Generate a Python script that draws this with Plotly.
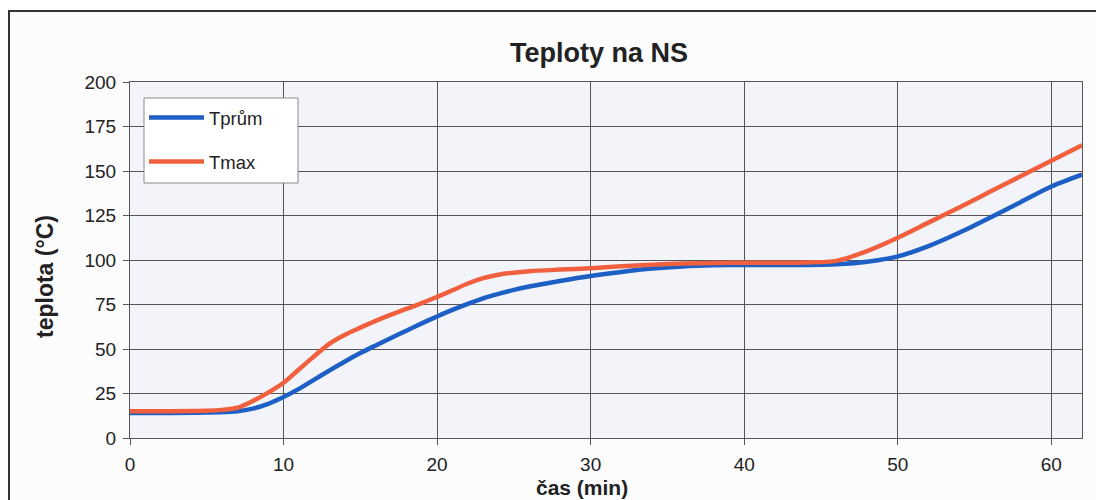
import plotly.graph_objects as go

# time in minutes
t_prum_x = [0, 5, 7, 8, 9, 10, 11, 12, 13, 14, 15, 16, 17, 18, 19, 20, 21, 22, 23, 24, 25, 26, 28, 30, 32, 34, 36, 38, 40, 42, 44, 46, 48, 50, 52, 54, 56, 58, 60, 62]
t_prum_y = [14, 14.3, 15, 16.5, 19.2, 23, 27.6, 32.8, 38, 43, 47.7, 52, 56.2, 60.3, 64.4, 68.3, 72, 75.4, 78.5, 81, 83.2, 85.1, 88.2, 91, 93.3, 95.2, 96.4, 97, 97.2, 97.2, 97.2, 97.6, 99, 102, 107.8, 115.3, 123.7, 132.5, 141.3, 148]

t_max_x = [0, 5, 6, 7, 8, 9, 10, 11, 12, 13, 14, 15, 16, 17, 18, 19, 20, 21, 22, 23, 24, 25, 26, 28, 30, 32, 34, 36, 38, 40, 42, 44, 46, 48, 50, 52, 54, 56, 58, 60, 62]
t_max_y = [15, 15.3, 15.8, 17, 20.8, 25.5, 31, 38.5, 46, 53, 58, 62, 65.8, 69.3, 72.5, 75.8, 79.3, 83, 86.8, 89.8, 91.7, 92.9, 93.7, 94.6, 95.4, 96.5, 97.4, 98, 98.3, 98.5, 98.5, 98.6, 99.5, 105, 112.5, 121, 129.5, 138.3, 147, 155.7, 164.5]

x_ticks = [0, 10, 20, 30, 40, 50, 60]
y_ticks = [0, 25, 50, 75, 100, 125, 150, 175, 200]

title_text = "Teploty na NS"
x_title = "čas (min)"
y_title = "teplota (°C)"

FONT = "Liberation Sans, Arial, sans-serif"
OFF = 8  # page offset of the figure (body margin)
W, H = 1104 - OFF, 500 - OFF
# plot area in page pixels: x 130..1082, y 82..438
L = 130 - OFF
T = 82 - OFF
R = W - (1082 - OFF)
B = H - (438 - OFF)
pw, ph = W - L - R, H - T - B

def px_x(p):
    return (p - OFF - L) / pw

def px_y(p):
    return (H - B - (p - OFF)) / ph

fig = go.Figure()
fig.add_trace(go.Scatter(x=t_prum_x, y=t_prum_y, mode="lines", name="Tprům",
                         line=dict(color="#1d5fc4", width=4.5, shape="spline", smoothing=0.8),
                         legendgroup="a"))
fig.add_trace(go.Scatter(x=t_max_x, y=t_max_y, mode="lines", name="Tmax",
                         line=dict(color="#f0603e", width=4.5, shape="spline", smoothing=0.8),
                         legendgroup="b"))

axis_common = dict(showline=True, linecolor="#555", linewidth=1, mirror=True,
                   showgrid=True, gridcolor="#555", gridwidth=1,
                   ticks="outside", ticklen=6, tickcolor="#555", zeroline=False,
                   ticklabelstandoff=3,
                   tickfont=dict(family=FONT, size=19, color="#222"))

fig.update_layout(
    width=W, height=H,
    margin=dict(l=L, r=R, t=T, b=B),
    paper_bgcolor="#fcfcfd",
    plot_bgcolor="#f2f4f9",
    showlegend=True,
    legend=dict(x=px_x(144), y=px_y(99), xanchor="left", yanchor="top",
                bgcolor="rgba(0,0,0,0)", borderwidth=0,
                font=dict(family=FONT, size=18.5, color="#222"),
                itemwidth=55, tracegroupgap=17, traceorder="grouped"),
    xaxis=dict(range=[0, 62], tickvals=x_ticks, **axis_common),
    yaxis=dict(range=[0, 200], tickvals=y_ticks, **axis_common),
)

# legend box (drawn under the legend entries)
fig.add_shape(type="rect", xref="paper", yref="paper",
              x0=px_x(144), x1=px_x(298), y0=px_y(98), y1=px_y(183),
              line=dict(color="#8a8a8a", width=1), fillcolor="white", layer="above")

fig.add_annotation(text="<b>" + title_text + "</b>", xref="paper", yref="paper",
                   x=px_x(599), y=px_y(53), xanchor="center", yanchor="middle",
                   showarrow=False, font=dict(family=FONT, size=27, color="#222"))
fig.add_annotation(text="<b>" + x_title + "</b>", xref="paper", yref="paper",
                   x=px_x(582), y=px_y(487), xanchor="center", yanchor="middle",
                   showarrow=False, font=dict(family=FONT, size=21, color="#222"))
fig.add_annotation(text="<b>" + y_title + "</b>", xref="paper", yref="paper",
                   x=px_x(45), y=px_y(277), xanchor="center", yanchor="middle",
                   showarrow=False, textangle=-90,
                   font=dict(family=FONT, size=23, color="#222"))

# outer chart border
fig.add_shape(type="rect", xref="paper", yref="paper",
              x0=px_x(9), x1=px_x(1120), y0=px_y(11), y1=px_y(520),
              line=dict(color="#333", width=2), fillcolor="rgba(0,0,0,0)", layer="below")

fig.write_html("out.html")
